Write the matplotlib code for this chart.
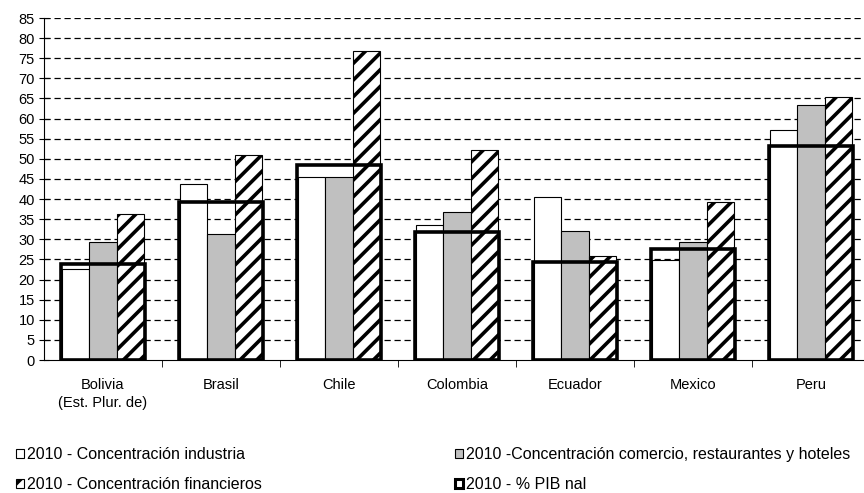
import numpy as np
import matplotlib
matplotlib.use("Agg")
import matplotlib.pyplot as plt
from matplotlib.patches import Patch

plt.rcParams['font.family'] = ['Liberation Sans', 'DejaVu Sans']
plt.rcParams['hatch.linewidth'] = 2.6

countries = ['Bolivia\n(Est. Plur. de)', 'Brasil', 'Chile', 'Colombia', 'Ecuador', 'Mexico', 'Peru']
industria = [22.6, 43.8, 45.4, 33.5, 40.6, 24.9, 57.1]
comercio = [29.3, 31.4, 45.4, 36.9, 32.1, 29.3, 63.5]
financieros = [36.3, 50.9, 76.7, 52.2, 25.9, 39.3, 65.3]
pib_nal = [23.9, 39.3, 48.4, 31.9, 24.3, 27.5, 53.2]

labels = ['2010 - Concentración industria',
          '2010 -Concentración comercio, restaurantes y hoteles',
          '2010 - Concentración financieros',
          '2010 - % PIB nal']

fig = plt.figure(figsize=(8.64, 4.93), dpi=100)
ax = fig.add_axes([44 / 864, 1 - 360 / 493, 826 / 864, 342 / 493])

x = np.arange(len(countries))
w = 0.23
ax.bar(x - w, industria, w, color='white', edgecolor='black', linewidth=0.8, zorder=2)
ax.bar(x, comercio, w, color='#c0c0c0', edgecolor='black', linewidth=0.8, zorder=2)
ax.bar(x + w, financieros, w, color='white', edgecolor='black', linewidth=0.8,
       hatch='//', zorder=2)
ax.bar(x, pib_nal, 0.71, color='none', edgecolor='black', linewidth=2.6, zorder=3)

ax.set_xlim(-0.5, len(countries) - 0.5)
ax.set_ylim(0, 85)
ax.set_yticks(np.arange(0, 86, 5))
ax.set_xticks(x)
ax.set_xticklabels(countries, fontsize=10.5, linespacing=1.35)
ax.set_xticks(np.arange(0.5, len(countries) - 0.5, 1), minor=True)
ax.tick_params(axis='x', which='major', length=0, pad=13)
ax.tick_params(axis='x', which='minor', length=5, direction='out')
ax.tick_params(axis='y', labelsize=10.5, length=7, direction='inout', pad=3)
for yv in np.arange(5, 86, 5):
    ax.axhline(yv, color='black', linestyle=(0, (5, 3)), linewidth=0.9, zorder=1)
ax.spines['top'].set_visible(False)
ax.spines['right'].set_visible(False)

handles = [Patch(facecolor='white', edgecolor='black', linewidth=0.8),
           Patch(facecolor='#c0c0c0', edgecolor='black', linewidth=0.8),
           Patch(facecolor='white', edgecolor='black', linewidth=0.8, hatch='//'),
           Patch(facecolor='white', edgecolor='black', linewidth=2.2)]

common = dict(frameon=False, fontsize=11.5, handlelength=0.5, handleheight=0.5,
              handletextpad=0.2, labelspacing=0.95, borderpad=0, borderaxespad=0)
leg1 = fig.legend([handles[0], handles[2]], [labels[0], labels[2]],
                  loc='upper left', bbox_to_anchor=(16 / 864, 1 - 447 / 493), **common)
leg2 = fig.legend([handles[1], handles[3]], [labels[1], labels[3]],
                  loc='upper left', bbox_to_anchor=(455 / 864, 1 - 447 / 493), **common)

fig.savefig('out.png', dpi=100)
